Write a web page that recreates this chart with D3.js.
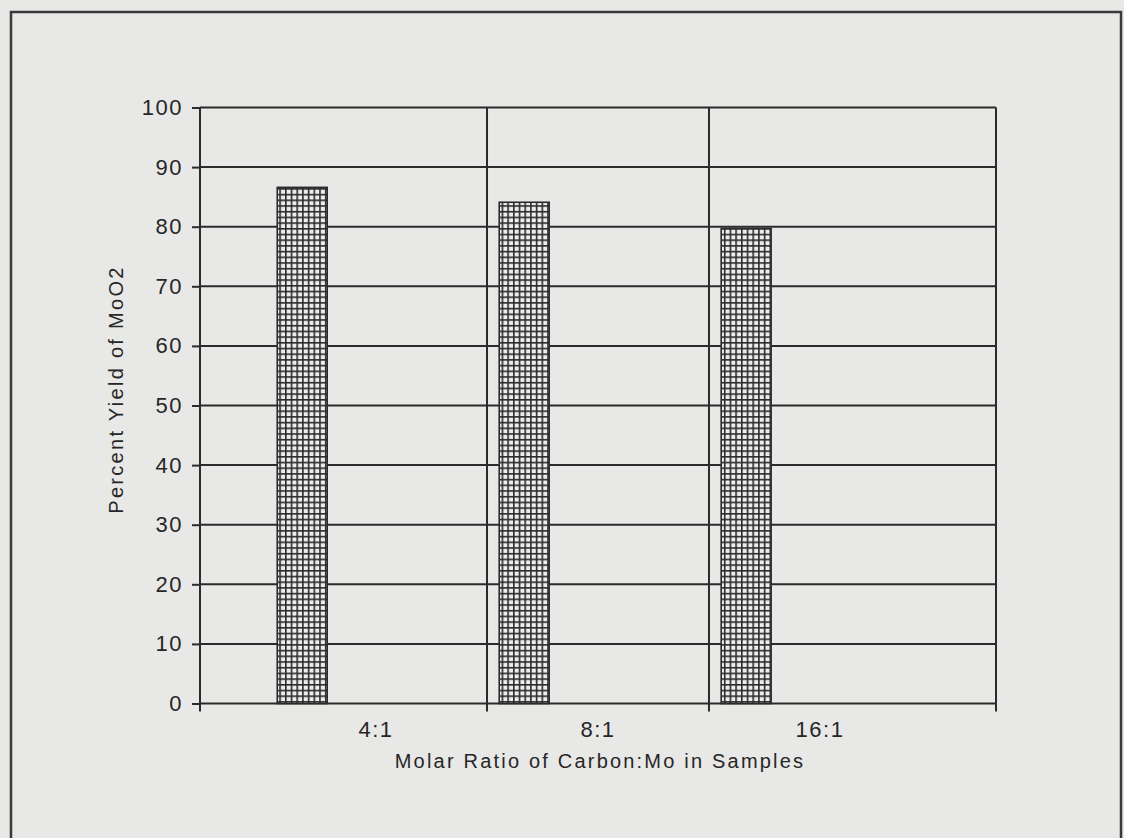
<!DOCTYPE html>
<html>
<head>
<meta charset="utf-8">
<script src="https://cdn.jsdelivr.net/npm/d3@7"></script>
<style>
  html, body { margin: 0; padding: 0; background: #e8e8e7; }
  svg { display: block; }
  text { font-family: "Liberation Sans", Arial, sans-serif; fill: #262626; }
</style>
</head>
<body>
<svg id="chart" width="1124" height="838"></svg>
<script>
// Molar ratio categories and percent yield of MoO2
const categories = ["4:1", "8:1", "16:1"];
const yields = [86.6, 84.1, 79.7];
const yTicks = [0, 10, 20, 30, 40, 50, 60, 70, 80, 90, 100];

const xTitle = "Molar Ratio of Carbon:Mo in Samples";
const yTitle = "Percent Yield of MoO2";

const W = 1124, H = 838;
const plot = { left: 200, right: 996, top: 107.5, bottom: 703.5 };
const ink = "#2b2b2b";

const svg = d3.select("#chart");

// paper background
svg.append("rect").attr("width", W).attr("height", H).attr("fill", "#e8e8e7");

// crosshatch fill for bars
const defs = svg.append("defs");
const cell = 5.7;
const pat = defs.append("pattern")
  .attr("id", "hatch")
  .attr("patternUnits", "userSpaceOnUse")
  .attr("width", cell).attr("height", cell);
pat.append("rect").attr("width", cell).attr("height", cell).attr("fill", "#ededed");
pat.append("line").attr("x1", 0.8).attr("y1", 0).attr("x2", 0.8).attr("y2", cell)
  .attr("stroke", ink).attr("stroke-width", 1.6);
pat.append("line").attr("x1", 0).attr("y1", 0.8).attr("x2", cell).attr("y2", 0.8)
  .attr("stroke", ink).attr("stroke-width", 1.6);

// outer frame
svg.append("path")
  .attr("d", `M11,${H + 5} L11,12 L1121,12 L1121,${H + 5}`)
  .attr("fill", "none").attr("stroke", "#3a3a3a").attr("stroke-width", 2.5);

// scales
const y = d3.scaleLinear().domain([0, 100]).range([plot.bottom, plot.top]);
const x = d3.scaleBand().domain(categories)
  .range([plot.left, plot.right])
  .paddingInner(0).paddingOuter(0.293);

// horizontal grid lines
svg.append("g").selectAll("line").data(yTicks).join("line")
  .attr("x1", plot.left).attr("x2", plot.right)
  .attr("y1", d => y(d)).attr("y2", d => y(d))
  .attr("stroke", ink).attr("stroke-width", 2);

// vertical dividers between categories, plus right edge; ticks hang below axis
const dividers = categories.slice(1).map(c => x(c)).concat([plot.right]);
svg.append("g").selectAll("line").data(dividers).join("line")
  .attr("x1", d => d).attr("x2", d => d)
  .attr("y1", plot.top).attr("y2", plot.bottom + 8)
  .attr("stroke", ink).attr("stroke-width", 2);

// bars
svg.append("g").selectAll("rect").data(categories).join("rect")
  .attr("x", c => x(c) + x.bandwidth() * 0.055)
  .attr("width", x.bandwidth() * 0.225)
  .attr("y", (c, i) => y(yields[i]))
  .attr("height", (c, i) => y(0) - y(yields[i]))
  .attr("fill", "url(#hatch)")
  .attr("stroke", ink).attr("stroke-width", 1.6);

// y axis with outward ticks
const yAxis = svg.append("g")
  .attr("transform", `translate(${plot.left},0)`)
  .call(d3.axisLeft(y).tickValues(yTicks).tickSize(8).tickPadding(9).tickSizeOuter(0));
yAxis.select(".domain").remove();
yAxis.selectAll(".tick line").attr("stroke", ink).attr("stroke-width", 2);
yAxis.selectAll(".tick text")
  .attr("font-size", 22).attr("letter-spacing", 1.5)
  .attr("fill", "#262626")
  .style("font-family", '"Liberation Sans", Arial, sans-serif');
yAxis.append("line")
  .attr("x1", 0).attr("x2", 0).attr("y1", plot.top).attr("y2", plot.bottom + 8)
  .attr("stroke", ink).attr("stroke-width", 2);

// category labels centred in each band
const xAxis = svg.append("g")
  .attr("transform", `translate(0,${plot.bottom})`)
  .call(d3.axisBottom(x).tickSize(0).tickPadding(18));
xAxis.select(".domain").remove();
xAxis.selectAll(".tick text")
  .attr("font-size", 22).attr("letter-spacing", 1.5)
  .attr("fill", "#262626")
  .style("font-family", '"Liberation Sans", Arial, sans-serif');

// axis titles
svg.append("text")
  .attr("x", (plot.left + plot.right) / 2 + 2)
  .attr("y", 768)
  .attr("text-anchor", "middle")
  .attr("font-size", 20).attr("letter-spacing", 2.2)
  .text(xTitle);

svg.append("text")
  .attr("transform", `translate(123,${(plot.top + plot.bottom) / 2 - 16}) rotate(-90)`)
  .attr("text-anchor", "middle")
  .attr("font-size", 20).attr("letter-spacing", 2.3)
  .text(yTitle);
</script>
</body>
</html>
